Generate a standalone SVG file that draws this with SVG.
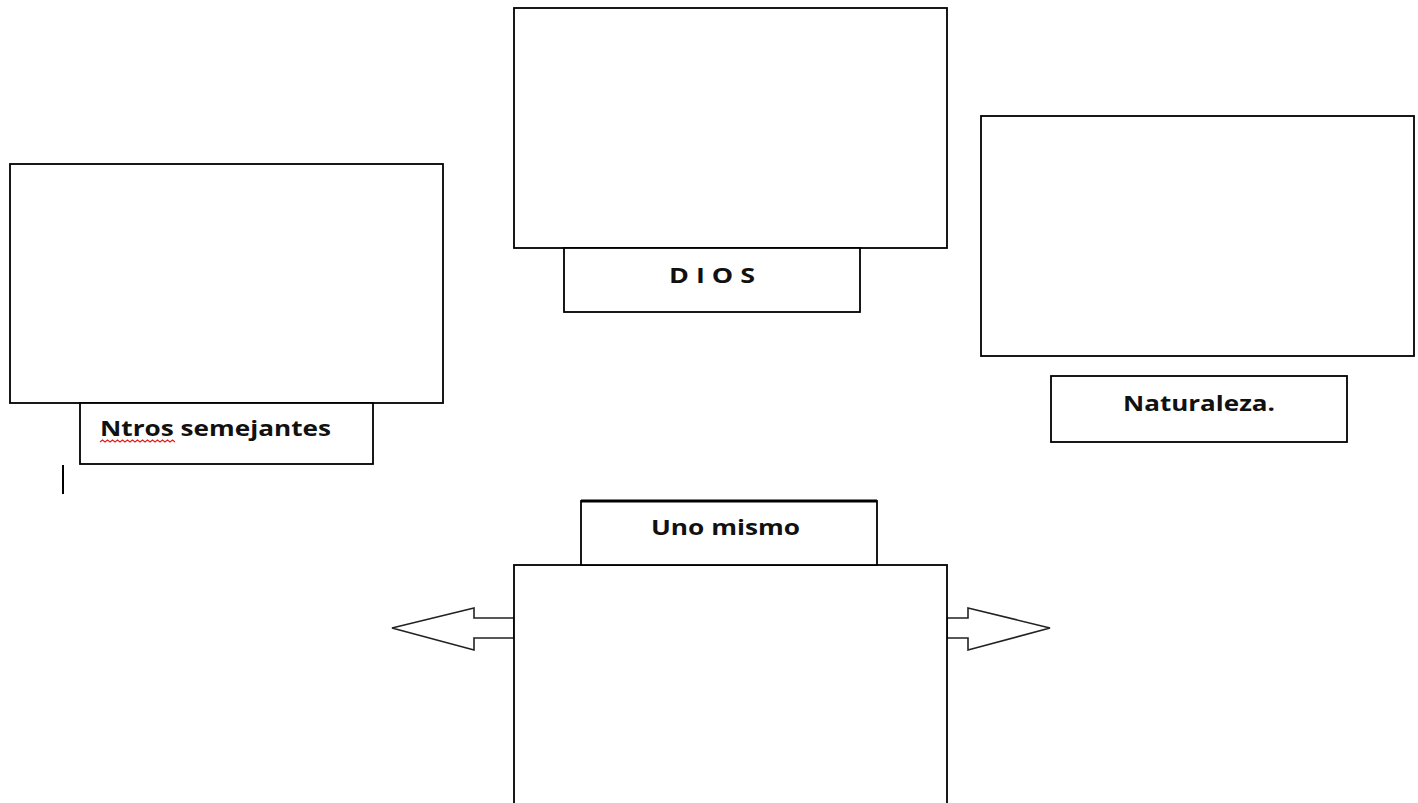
<svg xmlns="http://www.w3.org/2000/svg" width="1418" height="803" viewBox="0 0 1418 803">
<style>
.box{fill:#fff;stroke:#000;stroke-width:1.8}
.lbl{font-family:"Open Sans","Liberation Sans",sans-serif;font-weight:bold;font-size:21px;fill:#111}
.arr{fill:#fff;stroke:#222;stroke-width:1.6;stroke-linejoin:miter}
</style>
<rect width="1418" height="803" fill="#fff"/>
<g id="connectors">
<polygon class="arr" points="514,618 474,618 474,608 392,628 474,650 474,638 514,638"/>
<polygon class="arr" points="947,618 968,618 968,608 1050,628 968,650 968,638 947,638"/>
</g>
<g id="dios">
<rect class="box" x="514" y="8" width="433" height="240"/>
<rect class="box" x="564" y="248" width="296" height="64"/>
<text class="lbl" x="669" y="283" textLength="86" lengthAdjust="spacingAndGlyphs">D I O S</text>
</g>
<g id="semejantes">
<rect class="box" x="10" y="164" width="433" height="239"/>
<rect class="box" x="80" y="403" width="293" height="61"/>
<text class="lbl" x="100" y="436" textLength="231" lengthAdjust="spacingAndGlyphs">Ntros semejantes</text>
<path d="M100,442 l2.5,-2 l2.5,2 l2.5,-2 l2.5,2 l2.5,-2 l2.5,2 l2.5,-2 l2.5,2 l2.5,-2 l2.5,2 l2.5,-2 l2.5,2 l2.5,-2 l2.5,2 l2.5,-2 l2.5,2 l2.5,-2 l2.5,2 l2.5,-2 l2.5,2 l2.5,-2 l2.5,2 l2.5,-2 l2.5,2 l2.5,-2 l2.5,2 l2.5,-2 l2.5,2 l2.5,-2 l2.5,2" fill="none" stroke="#e02020" stroke-width="1.2"/>
<line x1="63" y1="465" x2="63" y2="494" stroke="#000" stroke-width="2"/>
</g>
<g id="naturaleza">
<rect class="box" x="981" y="116" width="433" height="240"/>
<rect class="box" x="1051" y="376" width="296" height="66"/>
<text class="lbl" x="1123" y="411" textLength="152" lengthAdjust="spacingAndGlyphs">Naturaleza.</text>
</g>
<g id="uno-mismo">
<rect class="box" x="514" y="565" width="433" height="250"/>
<rect class="box" x="581" y="501" width="296" height="64"/>
<line x1="581" y1="501" x2="877" y2="501" stroke="#000" stroke-width="3"/>
<text class="lbl" x="651" y="535" textLength="149" lengthAdjust="spacingAndGlyphs">Uno mismo</text>
</g>
</svg>
